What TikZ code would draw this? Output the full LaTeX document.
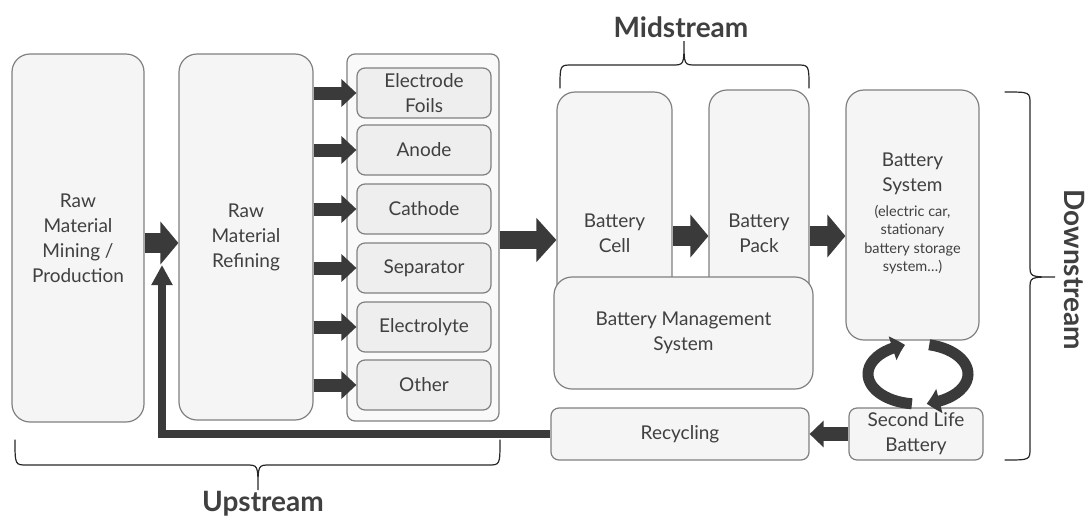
\documentclass[tikz,border=0pt]{standalone}
\usepackage{fontspec}
\setmainfont{Lato}
\usetikzlibrary{arrows.meta,bending}
\definecolor{boxfill}{HTML}{F5F5F5}
\definecolor{subfill}{HTML}{EEEEEE}
\definecolor{boxline}{HTML}{808080}
\definecolor{arr}{HTML}{3A3A3A}
\definecolor{txt}{HTML}{404040}
\begin{document}
\begin{tikzpicture}[x=1pt,y=-1pt,
  box/.style={draw=boxline, line width=1.2pt, fill=boxfill, rounded corners=18pt,
    align=center, text=txt, font=\fontsize{19}{25}\selectfont, inner sep=2pt},
  sbox/.style={box, rounded corners=8pt},
  sub/.style={sbox, fill=subfill, minimum width=134pt, minimum height=50pt},
  blk/.style args={#1/#2/#3}{draw=arr, line width=#1, -{Triangle[length=#3, width=#2]}},
  brace/.style={draw=black!85, line width=1.2pt, line cap=round},
  lbl/.style={text=txt, font=\fontsize{28}{32}\selectfont\bfseries}
]
\useasboundingbox (0,0) rectangle (1087,517);

% upstream boxes
\node[box, minimum width=132pt, minimum height=368pt] (mining) at (78,238)
  {Raw\\Material\\Mining /\\Production};
\node[box, minimum width=134pt, minimum height=366pt] (refining) at (246,237)
  {Raw\\Material\\Refining};
\node[sbox, fill=boxfill!60!white, minimum width=152pt, minimum height=367pt] (cont) at (423,237.5) {};
\node[sub] (s1) at (424,93) {Electrode\\Foils};
\node[sub] (s2) at (424,150) {Anode};
\node[sub] (s3) at (424,209) {Cathode};
\node[sub] (s4) at (424,268) {Separator};
\node[sub] (s5) at (424,327) {Electrolyte};
\node[sub] (s6) at (424,385) {Other};

% midstream
\node[box, minimum width=115pt, minimum height=283pt] (cell) at (614.5,233.5) {Battery\\Cell};
\node[box, minimum width=100pt, minimum height=286pt] (pack) at (759,233) {Battery\\Pack};
\node[box, minimum width=259pt, minimum height=112pt] (bms) at (683.5,333)
  {Battery Management\\System};

% downstream
\node[box, minimum width=133pt, minimum height=250pt] (system) at (912.5,215)
  {Battery\\System\\{\fontsize{14.5}{18.5}\selectfont\begin{tabular}[t]{@{}c@{}}(electric car,\\stationary\\battery storage\\system…)\end{tabular}}};
\node[sbox, minimum width=134pt, minimum height=52pt] (second) at (916,434)
  {Second Life\\Battery};
\node[sbox, minimum width=258pt, minimum height=52pt] (recycling) at (680,434) {Recycling};

% helper coordinates
\coordinate (a1) at (0,243);
\coordinate (a2) at (0,240);
\coordinate (a3) at (0,236);
\coordinate (rt) at (162,265);
\coordinate (cyc) at (918,374);

% block arrows
\draw[blk=20pt/42pt/18pt] (mining.east |- a1) -- (refining.west |- a1);
\foreach \s in {s1,s2,s3,s4,s5,s6}
  \draw[blk=13pt/27pt/15pt] (refining.east |- \s) -- (\s.west);
\draw[blk=18pt/43pt/20pt] (cont.east |- a2) -- (cell.west |- a2);
\draw[blk=20pt/42pt/18pt] (cell.east |- a3) -- (pack.west |- a3);
\draw[blk=20pt/42pt/18pt] (pack.east |- a3) -- (system.west |- a3);
\draw[blk=14pt/26pt/14pt] (second.west) -- (recycling.east);
\draw[draw=arr, line width=7.5pt, -{Triangle[length=20pt, width=20pt]}]
  (recycling.west) -| (rt);

% cycle arrows
\draw[draw=arr, line width=11pt, -{Triangle[bend, length=13pt, width=24pt]}]
  ([shift={(97:50 and 30)}]cyc) arc[start angle=97, end angle=255, x radius=50, y radius=30];
\draw[draw=arr, line width=11pt, -{Triangle[bend, length=13pt, width=24pt]}]
  ([shift={(283:50 and 30)}]cyc) arc[start angle=283, end angle=440, x radius=50, y radius=30];

% braces
\draw[brace] (560,88) .. controls (560,65) .. (572,65) -- (672,65)
  .. controls (684,65) .. (684,41) .. controls (684,65) .. (696,65) -- (797,65)
  .. controls (809,65) .. (809,88);
\node[lbl, anchor=base] (mid) at (681,37) {Midstream};

\draw[brace] (15,440) .. controls (15,465) .. (27,465) -- (246,465)
  .. controls (258,465) .. (258,490) .. controls (258,465) .. (270,465) -- (488,465)
  .. controls (500,465) .. (500,440);
\node[lbl, anchor=base] (up) at (263,511) {Upstream};

\draw[brace] (1005,92) .. controls (1030,92) .. (1030,104) -- (1030,265)
  .. controls (1030,277) .. (1055,277) .. controls (1030,277) .. (1030,289) -- (1030,448)
  .. controls (1030,460) .. (1005,460);
\node[lbl, rotate=-90] (down) at (1074,270) {Downstream};
\end{tikzpicture}
\end{document}
